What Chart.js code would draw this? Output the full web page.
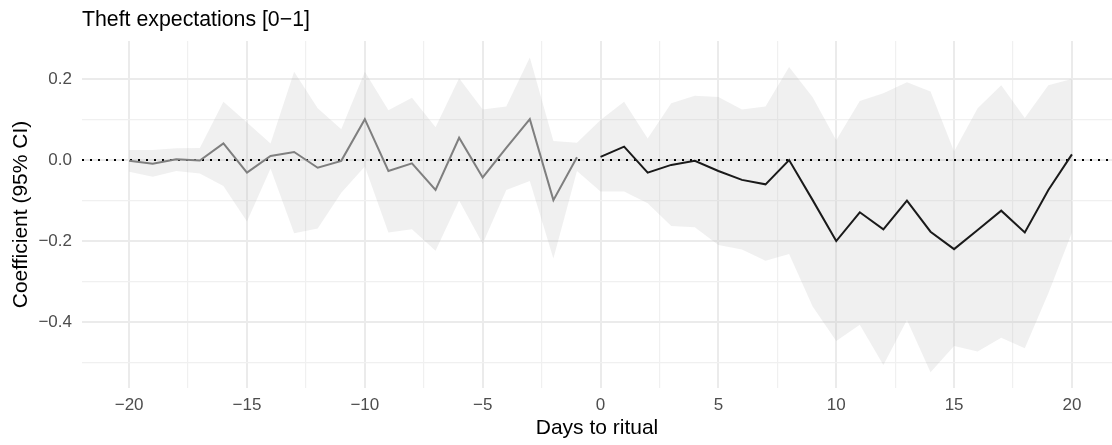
<!DOCTYPE html>
<html>
<head>
<meta charset="utf-8">
<script src="https://cdn.jsdelivr.net/npm/chart.js@4.4.1/dist/chart.umd.min.js"></script>
<style>
  html, body { margin: 0; padding: 0; background: #fff; }
  #wrap { width: 1112px; height: 445px; }
</style>
</head>
<body>
<div id="wrap"><canvas id="chart" width="1112" height="445"></canvas></div>
<script>
// values
const plotTitle = "Theft expectations [0\u22121]";
const xTitle = "Days to ritual";
const yTitle = "Coefficient (95% CI)";

const days = [-20, -19, -18, -17, -16, -15, -14, -13, -12, -11, -10, -9, -8, -7, -6, -5, -4, -3, -2, -1,
  0, 1, 2, 3, 4, 5, 6, 7, 8, 9, 10, 11, 12, 13, 14, 15, 16, 17, 18, 19, 20];

// coefficient before the ritual (grey line), days -20..-1
const coefBefore = [-0.002, -0.009, 0.002, -0.001, 0.041, -0.031, 0.010, 0.020, -0.019, -0.002,
  0.101, -0.027, -0.008, -0.074, 0.055, -0.043, 0.030, 0.101, -0.099, 0.007];

// coefficient after the ritual (black line), days 0..20
const coefAfter = [0.008, 0.033, -0.031, -0.012, -0.002, -0.027, -0.049, -0.060, 0.000, -0.099,
  -0.200, -0.129, -0.171, -0.100, -0.177, -0.220, -0.173, -0.125, -0.179, -0.074, 0.014];

// 95% CI band, days -20..20
const ciUpper = [0.025, 0.025, 0.029, 0.030, 0.144, 0.093, 0.041, 0.218, 0.128, 0.076,
  0.218, 0.123, 0.154, 0.081, 0.202, 0.125, 0.132, 0.253, 0.047, 0.043,
  0.099, 0.144, 0.053, 0.140, 0.159, 0.156, 0.125, 0.132, 0.230, 0.155,
  0.049, 0.146, 0.165, 0.192, 0.169, 0.021, 0.128, 0.185, 0.104, 0.185, 0.200];
const ciLower = [-0.029, -0.041, -0.027, -0.033, -0.064, -0.152, -0.021, -0.181, -0.169, -0.081,
  -0.016, -0.179, -0.171, -0.224, -0.100, -0.207, -0.074, -0.052, -0.243, -0.027,
  -0.078, -0.078, -0.107, -0.163, -0.166, -0.210, -0.221, -0.249, -0.232, -0.362,
  -0.447, -0.407, -0.506, -0.395, -0.524, -0.459, -0.473, -0.439, -0.465, -0.329, -0.179];

const xMajor = [-20, -15, -10, -5, 0, 5, 10, 15, 20];
const xMinor = [-17.5, -12.5, -7.5, -2.5, 2.5, 7.5, 12.5, 17.5];
const yMajor = [-0.4, -0.2, 0, 0.2];
const yMinor = [-0.5, -0.3, -0.1, 0.1];
const xRange = [-22, 21.7];
const yRange = [-0.563, 0.294];

const FONT = '"Liberation Sans", Arial, Helvetica, sans-serif';
Chart.defaults.font.family = FONT;

const minus = s => s.replace('-', '\u2212');

function setTicks(major, minor) {
  return scale => {
    const t = major.map(v => ({ value: v, major: true }))
      .concat(minor.map(v => ({ value: v, major: false })));
    t.sort((a, b) => a.value - b.value);
    scale.ticks = t;
  };
}
const gridColor = ctx => (ctx.tick && ctx.tick.major) ? '#ebebeb' : '#f0f0f0';
const gridWidth = ctx => (ctx.tick && ctx.tick.major) ? 2 : 1.2;

const titlePlugin = {
  id: 'plotTitle',
  afterDraw(chart) {
    const ctx = chart.ctx;
    ctx.save();
    ctx.font = '21.3px ' + FONT;
    ctx.fillStyle = '#000';
    ctx.textBaseline = 'alphabetic';
    ctx.textAlign = 'left';
    ctx.fillText(plotTitle, chart.chartArea.left, chart.chartArea.top - 15);
    ctx.restore();
  }
};

const pts = (xs, ys) => ys.map((y, i) => ({ x: xs[i], y: y }));

new Chart(document.getElementById('chart'), {
  type: 'line',
  data: {
    datasets: [
      {
        label: 'upper',
        data: pts(days, ciUpper),
        borderWidth: 0,
        pointRadius: 0,
        fill: '+1',
        backgroundColor: 'rgba(179,179,179,0.2)',
        order: 5
      },
      {
        label: 'lower',
        data: pts(days, ciLower),
        borderWidth: 0,
        pointRadius: 0,
        fill: false,
        order: 5
      },
      {
        label: 'zero',
        data: pts(xRange, [0, 0]),
        borderColor: '#000',
        borderWidth: 2,
        borderDash: [2, 6],
        borderCapStyle: 'butt',
        pointRadius: 0,
        fill: false,
        order: 3
      },
      {
        label: 'before',
        data: pts(days, coefBefore),
        borderColor: '#7f7f7f',
        borderWidth: 2,
        pointRadius: 0,
        fill: false,
        order: 1
      },
      {
        label: 'after',
        data: pts(days.slice(20), coefAfter),
        borderColor: '#1a1a1a',
        borderWidth: 2,
        pointRadius: 0,
        fill: false,
        order: 1
      }
    ]
  },
  options: {
    responsive: false,
    animation: false,
    devicePixelRatio: 1,
    elements: { line: { tension: 0 } },
    layout: { padding: { top: 41, left: 0, right: 0, bottom: 0 } },
    plugins: {
      legend: { display: false },
      tooltip: { enabled: false }
    },
    scales: {
      x: {
        type: 'linear',
        min: xRange[0],
        max: xRange[1],
        afterBuildTicks: setTicks(xMajor, xMinor),
        afterFit: scale => { scale.height = 57; },
        grid: { color: gridColor, lineWidth: gridWidth, drawTicks: false },
        border: { display: false },
        ticks: {
          autoSkip: false,
          maxRotation: 0,
          padding: 7,
          color: '#4d4d4d',
          font: { size: 17, lineHeight: 1.2 },
          callback: (v, i, ticks) => ticks[i].major ? minus(String(v)) : ''
        },
        title: {
          display: true,
          text: xTitle,
          color: '#000',
          font: { size: 21, lineHeight: 1.2 },
          padding: { top: 0, bottom: 4 }
        }
      },
      y: {
        type: 'linear',
        min: yRange[0],
        max: yRange[1],
        afterBuildTicks: setTicks(yMajor, yMinor),
        afterFit: scale => { scale.width = 82; },
        grid: { color: gridColor, lineWidth: gridWidth, drawTicks: false },
        border: { display: false },
        ticks: {
          autoSkip: false,
          padding: 10,
          color: '#4d4d4d',
          font: { size: 17, lineHeight: 1.2 },
          callback: (v, i, ticks) => ticks[i].major ? minus(Number(v).toFixed(1)) : ''
        },
        title: {
          display: true,
          text: yTitle,
          color: '#000',
          font: { size: 21, lineHeight: 1.2 },
          padding: { top: 9, bottom: 0 }
        }
      }
    }
  },
  plugins: [titlePlugin]
});
</script>
</body>
</html>
